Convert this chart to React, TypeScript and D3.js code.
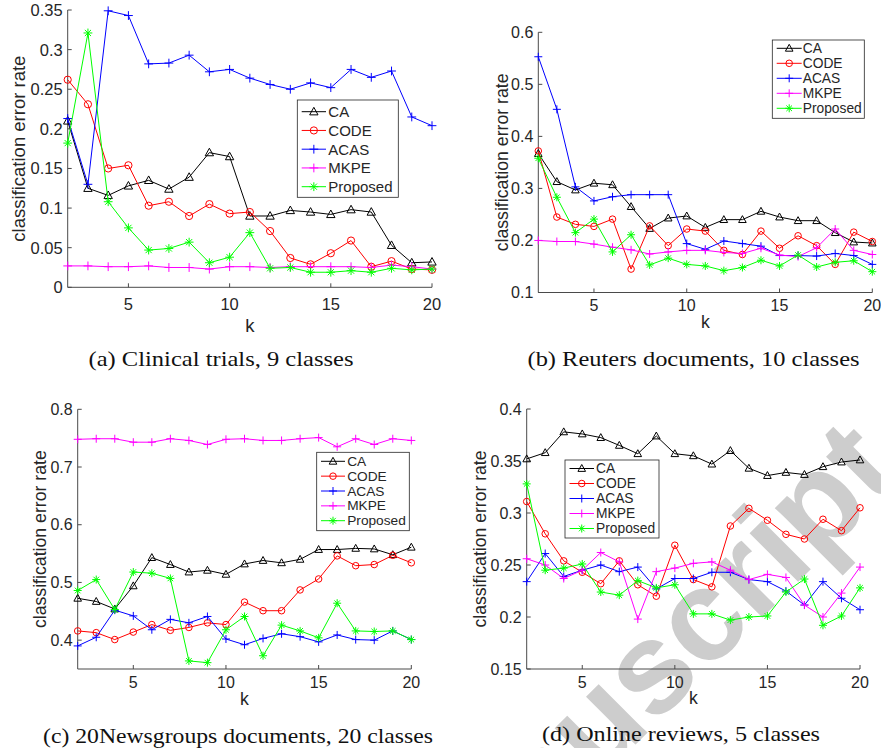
import React from "react";
import * as d3 from "d3";

// Neighbourhood size k on the horizontal axis
const kValues = [2, 3, 4, 5, 6, 7, 8, 9, 10, 11, 12, 13, 14, 15, 16, 17, 18, 19, 20];
const kTicks = [5, 10, 15, 20];

const methodNames = ["CA", "CODE", "ACAS", "MKPE", "Proposed"];
const methodColors = ["#000000", "#ff0000", "#0000ff", "#ff00ff", "#00ff00"];
const methodMarkers = ["triangle", "circle", "plus", "plus", "star"];

// (a) Clinical trials
const caClinical = [0.21, 0.125, 0.116, 0.128, 0.135, 0.124, 0.139, 0.17, 0.165, 0.09, 0.09, 0.097, 0.095, 0.092, 0.098, 0.095, 0.053, 0.031, 0.032];
const codeClinical = [0.262, 0.231, 0.15, 0.154, 0.103, 0.108, 0.09, 0.105, 0.093, 0.095, 0.071, 0.037, 0.029, 0.043, 0.059, 0.026, 0.033, 0.023, 0.022];
const acasClinical = [0.213, 0.13, 0.349, 0.343, 0.282, 0.283, 0.293, 0.272, 0.275, 0.264, 0.256, 0.25, 0.258, 0.252, 0.275, 0.265, 0.273, 0.215, 0.204];
const mkpeClinical = [0.027, 0.027, 0.026, 0.026, 0.027, 0.025, 0.025, 0.023, 0.026, 0.026, 0.025, 0.026, 0.026, 0.026, 0.026, 0.025, 0.028, 0.026, 0.023];
const proposedClinical = [0.182, 0.321, 0.108, 0.075, 0.047, 0.049, 0.057, 0.031, 0.038, 0.069, 0.024, 0.025, 0.019, 0.019, 0.021, 0.019, 0.024, 0.022, 0.023];

// (b) Reuters documents
const caReuters = [0.367, 0.313, 0.297, 0.31, 0.307, 0.265, 0.223, 0.243, 0.247, 0.225, 0.24, 0.24, 0.256, 0.245, 0.238, 0.238, 0.215, 0.197, 0.195];
const codeReuters = [0.372, 0.245, 0.231, 0.227, 0.241, 0.145, 0.228, 0.19, 0.222, 0.218, 0.181, 0.173, 0.218, 0.185, 0.209, 0.19, 0.154, 0.216, 0.198];
const acasReuters = [0.553, 0.452, 0.303, 0.276, 0.284, 0.288, 0.288, 0.288, 0.194, 0.183, 0.199, 0.194, 0.189, 0.171, 0.171, 0.17, 0.175, 0.171, 0.154];
const mkpeReuters = [0.2, 0.198, 0.198, 0.193, 0.187, 0.182, 0.174, 0.178, 0.181, 0.181, 0.177, 0.175, 0.185, 0.172, 0.169, 0.186, 0.222, 0.181, 0.173];
const proposedReuters = [0.358, 0.283, 0.215, 0.241, 0.178, 0.211, 0.153, 0.166, 0.154, 0.151, 0.142, 0.148, 0.162, 0.151, 0.172, 0.149, 0.158, 0.161, 0.14];

// (c) 20Newsgroups documents
const caNews = [0.4725, 0.467, 0.454, 0.494, 0.543, 0.531, 0.518, 0.521, 0.514, 0.532, 0.538, 0.534, 0.54, 0.557, 0.557, 0.559, 0.558, 0.548, 0.561];
const codeNews = [0.416, 0.413, 0.401, 0.414, 0.427, 0.417, 0.422, 0.43, 0.427, 0.466, 0.451, 0.451, 0.487, 0.506, 0.546, 0.529, 0.531, 0.547, 0.534];
const acasNews = [0.39, 0.405, 0.452, 0.442, 0.418, 0.436, 0.43, 0.441, 0.402, 0.392, 0.403, 0.411, 0.406, 0.397, 0.409, 0.401, 0.4, 0.416, 0.401];
const mkpeNews = [0.748, 0.749, 0.749, 0.743, 0.743, 0.749, 0.746, 0.739, 0.748, 0.749, 0.746, 0.746, 0.749, 0.751, 0.735, 0.749, 0.739, 0.749, 0.746];
const proposedNews = [0.486, 0.505, 0.453, 0.518, 0.516, 0.507, 0.364, 0.361, 0.418, 0.441, 0.373, 0.426, 0.416, 0.404, 0.464, 0.416, 0.415, 0.416, 0.401];

// (d) Online reviews
const caReviews = [0.352, 0.358, 0.378, 0.376, 0.3725, 0.365, 0.357, 0.374, 0.357, 0.355, 0.347, 0.36, 0.343, 0.336, 0.339, 0.337, 0.3445, 0.349, 0.351];
const codeReviews = [0.311, 0.28, 0.254, 0.243, 0.232, 0.254, 0.231, 0.22, 0.269, 0.236, 0.229, 0.2875, 0.3045, 0.293, 0.2795, 0.275, 0.294, 0.283, 0.305];
const acasReviews = [0.234, 0.261, 0.239, 0.245, 0.25, 0.2436, 0.248, 0.227, 0.237, 0.237, 0.243, 0.243, 0.236, 0.234, 0.225, 0.2115, 0.234, 0.218, 0.207];
const mkpeReviews = [0.256, 0.25, 0.237, 0.245, 0.262, 0.253, 0.198, 0.2436, 0.247, 0.2516, 0.253, 0.245, 0.236, 0.241, 0.238, 0.2115, 0.2, 0.223, 0.248];
const proposedReviews = [0.328, 0.245, 0.247, 0.251, 0.224, 0.221, 0.235, 0.228, 0.231, 0.203, 0.203, 0.197, 0.2, 0.201, 0.224, 0.2365, 0.192, 0.201, 0.228];

// Y tick labels per panel
const yTicksClinical = ["0", "0.05", "0.1", "0.15", "0.2", "0.25", "0.3", "0.35"];
const yTicksReuters = ["0.1", "0.2", "0.3", "0.4", "0.5", "0.6"];
const yTicksNews = ["0.4", "0.5", "0.6", "0.7", "0.8"];
const yTicksReviews = ["0.15", "0.2", "0.25", "0.3", "0.35", "0.4"];

const captions = [
  "(a) Clinical trials, 9 classes",
  "(b) Reuters documents, 10 classes",
  "(c) 20Newsgroups documents, 20 classes",
  "(d) Online reviews, 5 classes",
];

const yAxisTitle = "classification error rate";
const xAxisTitle = "k";
const stampText = "Manuscript";

const SANS = "'Liberation Sans', Arial, Helvetica, sans-serif";
const SERIF = "'Liberation Serif', 'Times New Roman', serif";
const AXIS = "#4a4a4a";
const TEXT = "#262626";

type Legend = {
  x: number; y: number; w: number; h: number;
  row0: number; step: number; lx0: number; lx1: number; tx: number; font: number;
};

type PanelSpec = {
  series: number[][];
  yDomain: [number, number];
  yTicks: string[];
  left: number; right: number; top: number; bottom: number;
  tickFont: number; labelFont: number; yLabelX: number;
  xTickY: number; xLabelY: number;
  caption: string; capX: number; capY: number; capW: number;
  legend: Legend;
  ms: number;
};

const panels: PanelSpec[] = [
  {
    series: [caClinical, codeClinical, acasClinical, mkpeClinical, proposedClinical],
    yDomain: [0, 0.35], yTicks: yTicksClinical,
    left: 67.7, right: 432, top: 10, bottom: 287.3,
    tickFont: 16.5, labelFont: 18.5, yLabelX: 18.5, xTickY: 304, xLabelY: 325.5,
    caption: captions[0], capX: 221, capY: 358, capW: 265,
    legend: { x: 297.3, y: 100, w: 101, h: 97.3, row0: 111.7, step: 18.75, lx0: 301.7, lx1: 326, tx: 328.3, font: 15 },
    ms: 4.4,
  },
  {
    series: [caReuters, codeReuters, acasReuters, mkpeReuters, proposedReuters],
    yDomain: [0.1, 0.6], yTicks: yTicksReuters,
    left: 538.3, right: 872.3, top: 32.3, bottom: 292.5,
    tickFont: 16, labelFont: 17.7, yLabelX: 501.7, xTickY: 305, xLabelY: 321.5,
    caption: captions[1], capX: 693.5, capY: 358, capW: 332,
    legend: { x: 772.3, y: 40, w: 92, h: 78.3, row0: 48.3, step: 15, lx0: 776.7, lx1: 801.7, tx: 802.7, font: 13.8 },
    ms: 4,
  },
  {
    series: [caNews, codeNews, acasNews, mkpeNews, proposedNews],
    yDomain: [0.35, 0.8], yTicks: yTicksNews,
    left: 77.7, right: 411.3, top: 409.3, bottom: 669,
    tickFont: 16, labelFont: 17.7, yLabelX: 40, xTickY: 682, xLabelY: 698.5,
    caption: captions[2], capX: 238, capY: 735, capW: 390,
    legend: { x: 316.7, y: 452.3, w: 92.6, h: 78.4, row0: 461.3, step: 14.85, lx0: 321, lx1: 345, tx: 347.2, font: 13.7 },
    ms: 4,
  },
  {
    series: [caReviews, codeReviews, acasReviews, mkpeReviews, proposedReviews],
    yDomain: [0.15, 0.4], yTicks: yTicksReviews,
    left: 526.7, right: 860, top: 409, bottom: 669,
    tickFont: 16, labelFont: 17.6, yLabelX: 480, xTickY: 682, xLabelY: 698.3,
    caption: captions[3], capX: 681, capY: 733.5, capW: 278,
    legend: { x: 565, y: 460, w: 94, h: 78, row0: 468.5, step: 15, lx0: 569.5, lx1: 594, tx: 596, font: 13.8 },
    ms: 4,
  },
];

function Marker({ kind, x, y, color, s }: { kind: string; x: number; y: number; color: string; s: number }) {
  if (kind === "circle") {
    return <circle cx={x} cy={y} r={s * 0.82} fill="none" stroke={color} strokeWidth={1} />;
  }
  let d = "";
  if (kind === "triangle") {
    d = `M0,${-s} L${s * 0.95},${s * 0.72} L${-s * 0.95},${s * 0.72} Z`;
  } else if (kind === "plus") {
    d = `M${-s},0 H${s} M0,${-s} V${s}`;
  } else {
    const q = s * 0.7;
    d = `M${-s},0 H${s} M0,${-s} V${s} M${-q},${-q} L${q},${q} M${-q},${q} L${q},${-q}`;
  }
  return (
    <path d={d} transform={`translate(${x},${y})`} fill="none" stroke={color} strokeWidth={1} strokeLinejoin="miter" />
  );
}

function Panel({ p }: { p: PanelSpec }) {
  const x = d3.scaleLinear().domain([kValues[0], kValues[kValues.length - 1]]).range([p.left, p.right]);
  const y = d3.scaleLinear().domain(p.yDomain).range([p.bottom, p.top]);
  const line = d3
    .line<number>()
    .x((_, i) => x(kValues[i]))
    .y((v) => y(v));
  const tickLen = 4;
  const lg = p.legend;

  return (
    <g>
      {/* axes */}
      <line x1={p.left} x2={p.left} y1={p.top} y2={p.bottom} stroke={AXIS} strokeWidth={1} />
      <line x1={p.left} x2={p.right} y1={p.bottom} y2={p.bottom} stroke={AXIS} strokeWidth={1} />
      {p.yTicks.map((t) => {
        const yy = y(+t);
        return (
          <g key={"y" + t}>
            <line x1={p.left} x2={p.left + tickLen} y1={yy} y2={yy} stroke={AXIS} strokeWidth={1} />
            <text x={p.left - 5} y={yy} textAnchor="end" dominantBaseline="central" fontFamily={SANS} fontSize={p.tickFont} fill={TEXT}>
              {t}
            </text>
          </g>
        );
      })}
      {kTicks.map((t) => {
        const xx = x(t);
        return (
          <g key={"x" + t}>
            <line x1={xx} x2={xx} y1={p.bottom} y2={p.bottom - tickLen} stroke={AXIS} strokeWidth={1} />
            <text x={xx} y={p.xTickY} textAnchor="middle" dominantBaseline="central" fontFamily={SANS} fontSize={p.tickFont} fill={TEXT}>
              {t}
            </text>
          </g>
        );
      })}
      <text x={(p.left + p.right) / 2} y={p.xLabelY} textAnchor="middle" dominantBaseline="central" fontFamily={SANS} fontSize={p.labelFont} fill={TEXT}>
        {xAxisTitle}
      </text>
      <text
        transform={`translate(${p.yLabelX},${(p.top + p.bottom) / 2}) rotate(-90)`}
        textAnchor="middle"
        dominantBaseline="central"
        fontFamily={SANS}
        fontSize={p.labelFont}
        fill={TEXT}
      >
        {yAxisTitle}
      </text>

      {/* series */}
      {p.series.map((vals, si) => (
        <g key={"s" + si}>
          <path d={line(vals) || ""} fill="none" stroke={methodColors[si]} strokeWidth={1} />
          {vals.map((v, i) => (
            <Marker key={i} kind={methodMarkers[si]} x={x(kValues[i])} y={y(v)} color={methodColors[si]} s={p.ms} />
          ))}
        </g>
      ))}

      {/* legend */}
      <rect x={lg.x} y={lg.y} width={lg.w} height={lg.h} fill="#ffffff" stroke={TEXT} strokeWidth={0.8} />
      {methodNames.map((name, i) => {
        const ry = lg.row0 + i * lg.step;
        return (
          <g key={"l" + name}>
            <line x1={lg.lx0} x2={lg.lx1} y1={ry} y2={ry} stroke={methodColors[i]} strokeWidth={1} />
            <Marker kind={methodMarkers[i]} x={(lg.lx0 + lg.lx1) / 2} y={ry} color={methodColors[i]} s={p.ms} />
            <text x={lg.tx} y={ry} dominantBaseline="central" fontFamily={SANS} fontSize={lg.font} fill={TEXT}>
              {name}
            </text>
          </g>
        );
      })}

      {/* caption */}
      <text
        x={p.capX}
        y={p.capY}
        textAnchor="middle"
        dominantBaseline="central"
        fontFamily={SERIF}
        fontSize={22}
        fill="#111111"
        textLength={p.capW}
        lengthAdjust="spacingAndGlyphs"
      >
        {p.caption}
      </text>
    </g>
  );
}

export default function App() {
  return (
    <svg
      width={881}
      height={748}
      viewBox="0 0 881 748"
      style={{ position: "absolute", left: 0, top: 0, background: "#ffffff" }}
    >
      <rect x={0} y={0} width={881} height={748} fill="#ffffff" />
      {/* diagonal stamp, drawn beneath the plots */}
      <text
        transform="translate(904,476) rotate(-45)"
        textAnchor="end"
        fontFamily={SANS}
        fontWeight="bold"
        fontSize={130}
        fill="#cdcdcd"
      >
        {stampText}
      </text>
      {panels.map((p, i) => (
        <Panel key={i} p={p} />
      ))}
    </svg>
  );
}
